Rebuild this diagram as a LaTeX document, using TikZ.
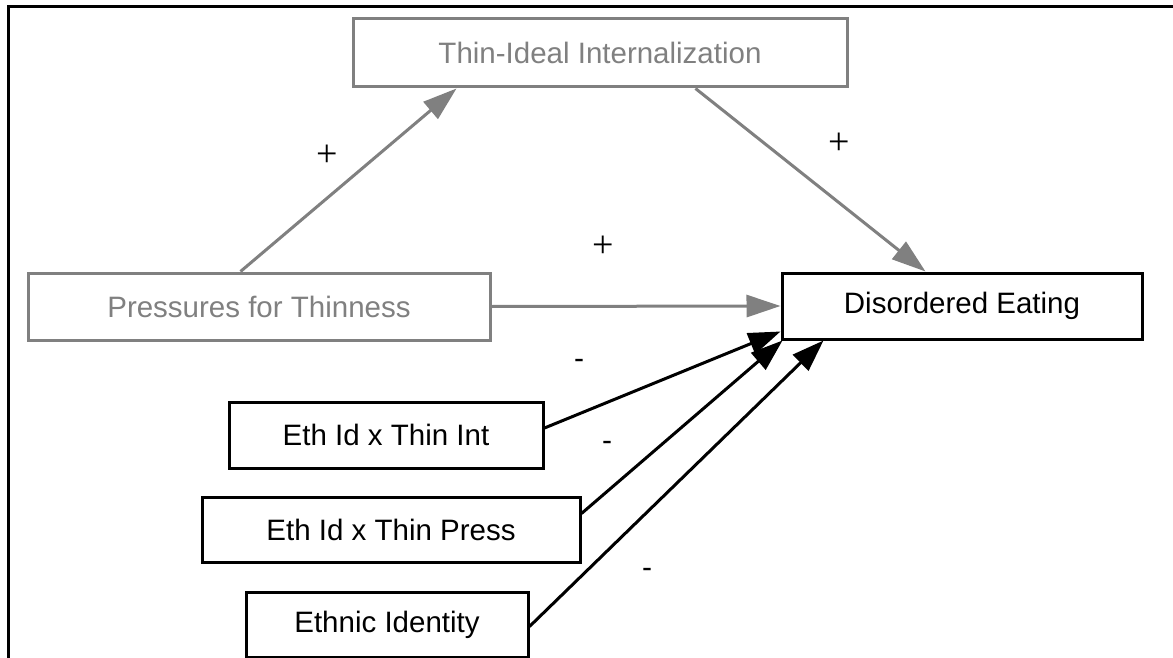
\documentclass[tikz,border=0pt]{standalone}
\usepackage{fontspec}
\setmainfont{Liberation Sans}
\newfontfamily\signfont{Liberation Serif}
\usetikzlibrary{arrows.meta,calc}
\definecolor{pathgrey}{RGB}{128,128,128}
\begin{document}
\begin{tikzpicture}[x=1pt,y=-1pt,
  varbox/.style={draw, line width=3pt, rectangle, inner sep=0pt,
    font=\fontsize{29.5}{32}\selectfont},
  greybox/.style={varbox, draw=pathgrey, text=pathgrey},
  blackbox/.style={varbox, draw=black, text=black},
  greyarrow/.style={draw=pathgrey, line width=3pt,
    -{Triangle[length=34pt,width=22pt]}, fill=pathgrey},
  blackarrow/.style={draw=black, line width=3pt,
    -{Triangle[length=32pt,width=22pt]}},
  plussign/.style={font=\signfont\fontsize{38}{40}\selectfont, inner sep=0pt},
  minussign/.style={font=\fontsize{30}{32}\selectfont, inner sep=0pt}]

\useasboundingbox (0,0) rectangle (1173,658);
\fill[white] (0,0) rectangle (1173,658);

% frame
\draw[line width=3pt] (8,658) -- (8,7) -- (1173,7);

% variables
\node[greybox, minimum width=494pt, minimum height=68pt] (thin) at (600,53) {Thin-Ideal Internalization};
\node[greybox, minimum width=462pt, minimum height=67pt] (press) at (259,306.5) {Pressures for Thinness};
\node[blackbox, minimum width=360pt, minimum height=66pt] (dis) at (962,306) {Disordered Eating};
\node[blackbox, minimum width=314pt, minimum height=66pt] (int) at (386,435) {Eth Id x Thin Int};
\node[blackbox, minimum width=378pt, minimum height=65pt] (tpress) at (391,529.5) {Eth Id x Thin Press};
\node[blackbox, minimum width=282pt, minimum height=65pt] (eid) at (387,624.5) {Ethnic Identity};

% paths
\draw[greyarrow] ($(press.north west)+(214,0)$) -- ($(thin.south west)+(105,0)$);
\draw[greyarrow] ($(thin.south west)+(344,0)$) -- ($(dis.north west)+(145,0)$);
\draw[greyarrow] (press.east) -- (dis.west);
\draw[blackarrow] ($(int.east)+(0,-7)$) -- ($(dis.south west)+(0,-9)$);
\draw[blackarrow] ($(tpress.east)+(0,-16)$) -- ($(dis.south west)+(2,0)$);
\draw[blackarrow] ($(eid.east)+(0,2)$) -- ($(dis.south west)+(43,0)$);

% signs
\node[plussign] (s1) at (327,156) {+};
\node[plussign] (s2) at (839,144) {+};
\node[plussign] (s3) at (603,247) {+};
\node[minussign] (s4) at (579,364) {-};
\node[minussign] (s5) at (607,446) {-};
\node[minussign] (s6) at (647,573) {-};
\end{tikzpicture}
\end{document}
